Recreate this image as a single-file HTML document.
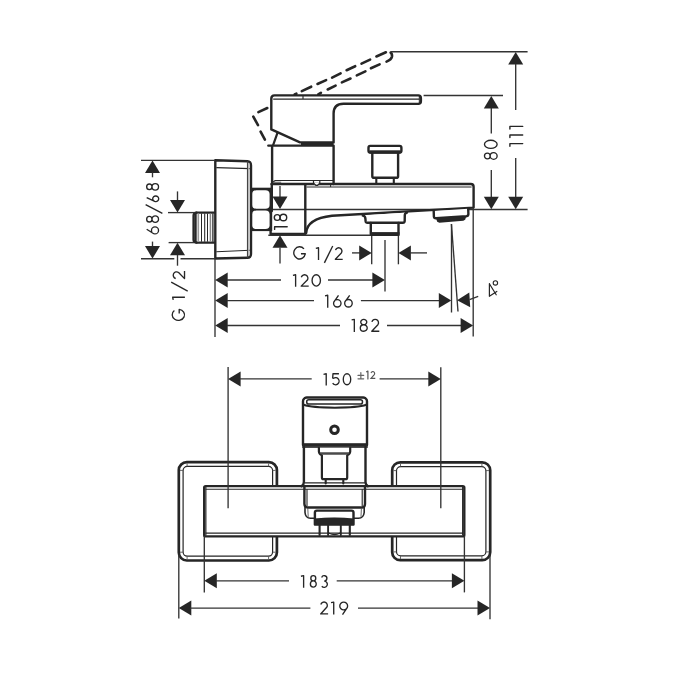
<!DOCTYPE html>
<html><head><meta charset="utf-8"><title>Bath mixer drawing</title>
<style>
html,body{margin:0;padding:0;background:#fff;width:700px;height:700px;overflow:hidden}
svg{display:block}
text{font-family:"Liberation Sans",sans-serif;fill:#262626;stroke:#fff;stroke-width:0.2px;paint-order:fill}
.tx{opacity:0.995}
</style></head>
<body>
<svg width="700" height="700" viewBox="0 0 700 700">
<rect width="700" height="700" fill="#fff"/>
<line x1="258.4" y1="112.1" x2="267.3" y2="108.0" stroke="#262626" stroke-width="2.6" stroke-linecap="round"/>
<line x1="294.6" y1="94.5" x2="296.4" y2="93.7" stroke="#262626" stroke-width="2.6" stroke-linecap="round"/>
<line x1="301.8" y1="91.1" x2="311.2" y2="86.7" stroke="#262626" stroke-width="2.6" stroke-linecap="round"/>
<line x1="317.5" y1="84.0" x2="326.1" y2="80.1" stroke="#262626" stroke-width="2.6" stroke-linecap="round"/>
<line x1="332.1" y1="77.7" x2="340.6" y2="73.3" stroke="#262626" stroke-width="2.6" stroke-linecap="round"/>
<line x1="346.6" y1="70.2" x2="355.2" y2="66.2" stroke="#262626" stroke-width="2.6" stroke-linecap="round"/>
<line x1="361.5" y1="63.6" x2="370.1" y2="59.6" stroke="#262626" stroke-width="2.6" stroke-linecap="round"/>
<line x1="376.4" y1="56.5" x2="385.9" y2="52.3" stroke="#262626" stroke-width="2.6" stroke-linecap="round"/>
<line x1="370.9" y1="68.3" x2="379.6" y2="64.4" stroke="#262626" stroke-width="2.6" stroke-linecap="round"/>
<line x1="356.8" y1="75.4" x2="365.4" y2="71.4" stroke="#262626" stroke-width="2.6" stroke-linecap="round"/>
<line x1="341.9" y1="82.4" x2="350.5" y2="78.5" stroke="#262626" stroke-width="2.6" stroke-linecap="round"/>
<line x1="327.7" y1="89.5" x2="335.6" y2="85.6" stroke="#262626" stroke-width="2.6" stroke-linecap="round"/>
<line x1="318.3" y1="94.4" x2="320.9" y2="92.8" stroke="#262626" stroke-width="2.6" stroke-linecap="round"/>
<line x1="253.3" y1="116.6" x2="258.0" y2="125.1" stroke="#262626" stroke-width="2.6" stroke-linecap="round"/>
<line x1="260.6" y1="131.6" x2="264.9" y2="139.7" stroke="#262626" stroke-width="2.6" stroke-linecap="round"/>
<path d="M390.6,52.6 Q392.3,53.6 392,56.5 Q391.5,59.5 386.5,61.6" stroke="#262626" stroke-width="2.6" fill="none" stroke-linejoin="round" stroke-linecap="round" />
<line x1="390.6" y1="51.7" x2="527.6" y2="51.7" stroke="#333333" stroke-width="1.35" />
<line x1="423.6" y1="95.5" x2="503" y2="95.5" stroke="#333333" stroke-width="1.35" />
<line x1="271" y1="209.5" x2="527.6" y2="209.5" stroke="#333333" stroke-width="1.35" />
<path d="M271.3,129.4 L271.3,98.8 Q271.3,95.4 274.5,95.4 L418.3,95.4 Q420.9,95.4 420.9,98.2 L420.9,101.3 Q420.9,103.9 418.3,103.9 L343.5,103.8 Q333.6,103.9 333.6,113.5 L333.6,142.4 L300,142.4 Z" stroke="#262626" stroke-width="2.4" fill="#fff" stroke-linejoin="round" stroke-linecap="round" />
<line x1="273.2" y1="99.1" x2="419.3" y2="99.1" stroke="#262626" stroke-width="1.1" />
<line x1="419.3" y1="96.4" x2="419.3" y2="102.8" stroke="#262626" stroke-width="1.0" />
<line x1="303" y1="95.6" x2="303" y2="99.1" stroke="#262626" stroke-width="1.1" />
<line x1="277.3" y1="133.3" x2="273.2" y2="144.8" stroke="#262626" stroke-width="2.2" stroke-linecap="round"/>
<path d="M268.3,145.6 L333.6,145.6 L333.6,184 M272.1,145.6 L272.1,184" stroke="#262626" stroke-width="2.4" fill="none" stroke-linejoin="round" stroke-linecap="round" />
<rect x="301" y="142.6" width="32.6" height="3" fill="#262626"/>
<path d="M272.6,182.2 L275.2,180.5 L333.6,180.5" stroke="#262626" stroke-width="1.1" fill="none" stroke-linejoin="round" stroke-linecap="round" />
<line x1="273.4" y1="182.2" x2="281.2" y2="182.2" stroke="#555" stroke-width="0.9" />
<path d="M372.3,152.2 L372.3,176.2 Q372.3,177.8 374,177.8 L396.4,177.8 Q398.1,177.8 398.1,176.2 L398.1,152.2" stroke="#262626" stroke-width="2.4" fill="#fff" stroke-linejoin="round" stroke-linecap="round" />
<path d="M370.2,145.9 L399.6,145.9 Q401.4,145.9 401.4,147.7 L401.4,150.8 Q401.4,152.6 399.6,152.6 L370.2,152.6 Q368.5,152.6 368.5,150.8 L368.5,147.7 Q368.5,145.9 370.2,145.9 Z" stroke="#262626" stroke-width="2.4" fill="#fff" stroke-linejoin="round" stroke-linecap="round" />
<rect x="369.4" y="150.3" width="31.2" height="3.3" fill="#262626"/>
<path d="M376.3,178 L376.3,183.5 M393.8,178 L393.8,183.5" stroke="#262626" stroke-width="2.1" fill="none" stroke-linejoin="round" stroke-linecap="round" />
<path d="M271.5,184.0 L470.9,184.0 Q473.6,184.0 473.6,186.7 L473.6,207.6 L332,215.7 C316,217.6 306.6,223 306.2,233" stroke="#262626" stroke-width="2.4" fill="none" stroke-linejoin="round" stroke-linecap="round" />
<line x1="306.5" y1="187.0" x2="471.6" y2="187.0" stroke="#262626" stroke-width="1.1" />
<rect x="314.3" y="182.7" width="4.8" height="2.2" fill="#fff"/>
<path d="M313.5,180.6 L313.5,183.2 L315.8,185.3 L317.6,185.3 L319.8,183.2 L319.8,180.6" stroke="#262626" stroke-width="1.2" fill="none" stroke-linejoin="round" stroke-linecap="round" stroke-linecap="butt"/>
<line x1="330.6" y1="184.8" x2="330.6" y2="187" stroke="#262626" stroke-width="1.0" />
<path d="M271.8,184.4 L271.8,211 M270.6,211 L270.6,234 L305.3,234 L305.3,184.4" stroke="#262626" stroke-width="2.4" fill="none" stroke-linejoin="round" stroke-linecap="round" />
<path d="M362.8,215.6 Q365.3,215.8 365.4,218.6 L365.6,221.2 Q365.8,222.8 367.5,222.8 L402.8,222.8 Q404.6,222.8 404.7,221 L404.8,215 Q405,212.8 407,212.6" stroke="#262626" stroke-width="2.4" fill="#fff" stroke-linejoin="round" stroke-linecap="round" />
<path d="M370.8,223 L370.8,234.2 L398.5,234.2 L398.5,223" stroke="#262626" stroke-width="2.4" fill="none" stroke-linejoin="round" stroke-linecap="round" />
<rect x="370" y="232.1" width="29.5" height="3.9" fill="#262626"/>
<path d="M433.7,211 L433.9,216.6 Q434.1,218.4 436.0,218.3 L466.3,216.2 Q468.4,216 468.4,214 L468.2,208.8" stroke="#262626" stroke-width="2.4" fill="#fff" stroke-linejoin="round" stroke-linecap="round" />
<polygon points="436.0,218.3 466.2,216.2 465.3,219.4 463.4,220.8 439.4,222.7 437.2,221.8" fill="#262626"/>
<rect x="250.2" y="187.7" width="22" height="43.4" fill="#262626"/>
<rect x="252.1" y="190.3" width="17.5" height="18.4" rx="4.2" ry="3.8" fill="#fff"/>
<rect x="252.1" y="210.6" width="17.5" height="18.5" rx="4.2" ry="3.8" fill="#fff"/>
<path d="M215.3,258.5 L215.3,160.3 L247.4,161.2 Q251.0,161.4 251.0,165.5 L251.0,253.5 Q251.0,257.7 247.4,257.8 Z" stroke="#262626" stroke-width="2.4" fill="#fff" stroke-linejoin="round" stroke-linecap="round" />
<line x1="216.3" y1="167.6" x2="250.3" y2="168.6" stroke="#262626" stroke-width="1.1" />
<line x1="216.3" y1="251.7" x2="250.3" y2="250.3" stroke="#262626" stroke-width="1.1" />
<line x1="248.8" y1="163" x2="248.8" y2="256" stroke="#bbb" stroke-width="1.3" />
<line x1="247.5" y1="161.3" x2="247.5" y2="257.7" stroke="#444" stroke-width="1.15" />
<path d="M196.4,212.6 L214.3,212.6 M196.4,242.6 L214.3,242.6" stroke="#262626" stroke-width="2.4" fill="none" stroke-linejoin="round" stroke-linecap="round" />
<path d="M196.5,212.6 Q193.6,212.8 193.6,215.5 L193.6,239.8 Q193.6,242.4 196.5,242.6" stroke="#262626" stroke-width="2.4" fill="none" stroke-linejoin="round" stroke-linecap="round" />
<line x1="195.6" y1="213" x2="195.6" y2="242" stroke="#262626" stroke-width="2.2" />
<line x1="198.3" y1="213.5" x2="198.3" y2="241.7" stroke="#999" stroke-width="1.6" />
<line x1="201.5" y1="213.5" x2="201.5" y2="241.7" stroke="#262626" stroke-width="1.05" />
<line x1="204.7" y1="213.5" x2="204.7" y2="241.7" stroke="#262626" stroke-width="1.05" />
<line x1="207.5" y1="213.5" x2="207.5" y2="241.7" stroke="#262626" stroke-width="1.05" />
<line x1="210.4" y1="213.5" x2="210.4" y2="241.7" stroke="#888" stroke-width="1.5" />
<line x1="212.9" y1="213.5" x2="212.9" y2="241.7" stroke="#262626" stroke-width="1.3" />
<polygon points="515.70,51.90 508.20,64.40 523.20,64.40" fill="#262626"/>
<line x1="515.7" y1="64" x2="515.7" y2="110" stroke="#333333" stroke-width="1.35" />
<path d="M522.7,126.4 L509.9,126.4 L509.9,129.0" stroke="#262626" stroke-width="1.4" fill="none" stroke-linejoin="round" stroke-linecap="round" stroke-linecap="butt" stroke-linejoin="miter"/>
<path d="M522.7,135.0 L509.9,135.0 L509.9,137.6" stroke="#262626" stroke-width="1.4" fill="none" stroke-linejoin="round" stroke-linecap="round" stroke-linecap="butt" stroke-linejoin="miter"/>
<path d="M522.7,143.6 L509.9,143.6 L509.9,146.2" stroke="#262626" stroke-width="1.4" fill="none" stroke-linejoin="round" stroke-linecap="round" stroke-linecap="butt" stroke-linejoin="miter"/>
<line x1="515.7" y1="157.9" x2="515.7" y2="197.5" stroke="#333333" stroke-width="1.35" />
<polygon points="515.70,209.30 508.20,196.80 523.20,196.80" fill="#262626"/>
<polygon points="491.30,95.90 483.80,108.40 498.80,108.40" fill="#262626"/>
<line x1="491.3" y1="108" x2="491.3" y2="133.6" stroke="#333333" stroke-width="1.35" />
<path d="M1.12,-10.48 A2.88,2.85 0 1 1 6.88,-10.48 A2.88,2.85 0 1 1 1.12,-10.48 Z M0.67,-4.15 A3.33,3.48 0 1 1 7.33,-4.15 A3.33,3.48 0 1 1 0.67,-4.15 Z M11.57,-7.00 A4.07,6.32 0 1 1 19.72,-7.00 A4.07,6.32 0 1 1 11.57,-7.00 Z" fill="none" stroke="#262626" stroke-width="1.35" stroke-linecap="butt" stroke-linejoin="round" transform="matrix(0,-1,1,0,497.8,160)"/>
<line x1="491.3" y1="170" x2="491.3" y2="197.5" stroke="#333333" stroke-width="1.35" />
<polygon points="491.30,209.30 483.80,196.80 498.80,196.80" fill="#262626"/>
<line x1="141" y1="160.3" x2="215" y2="160.3" stroke="#333333" stroke-width="1.35" />
<line x1="141" y1="258.7" x2="174.3" y2="258.7" stroke="#333333" stroke-width="1.35" />
<line x1="180.5" y1="258.7" x2="215" y2="258.7" stroke="#333333" stroke-width="1.35" />
<polygon points="152.50,160.40 145.00,172.90 160.00,172.90" fill="#262626"/>
<line x1="152.5" y1="172.5" x2="152.5" y2="177.3" stroke="#333333" stroke-width="1.35" />
<path d="M5.40,-12.52 L0.89,-5.41 M0.67,-4.20 A3.53,3.53 0 1 1 7.73,-4.20 A3.53,3.53 0 1 1 0.67,-4.20 Z M12.62,-9.86 A2.82,2.67 0 1 1 18.27,-9.86 A2.82,2.67 0 1 1 12.62,-9.86 Z M12.18,-3.93 A3.27,3.26 0 1 1 18.72,-3.93 A3.27,3.26 0 1 1 12.18,-3.93 Z M37.00,-12.52 L33.15,-4.47 M32.97,-3.50 A2.83,2.83 0 1 1 38.62,-3.50 A2.83,2.83 0 1 1 32.97,-3.50 Z M44.92,-9.86 A2.83,2.67 0 1 1 50.58,-9.86 A2.83,2.67 0 1 1 44.92,-9.86 Z M44.47,-3.93 A3.28,3.26 0 1 1 51.03,-3.93 A3.28,3.26 0 1 1 44.47,-3.93 Z" fill="none" stroke="#262626" stroke-width="1.35" stroke-linecap="butt" stroke-linejoin="round" transform="matrix(0,-1,1,0,159.2,234.6)"/>
<line x1="145.6" y1="204.6" x2="162.4" y2="213.3" stroke="#262626" stroke-width="1.35" />
<line x1="152.5" y1="241.6" x2="152.5" y2="246.5" stroke="#333333" stroke-width="1.35" />
<polygon points="152.50,258.60 145.00,246.10 160.00,246.10" fill="#262626"/>
<line x1="168" y1="212.6" x2="194" y2="212.6" stroke="#333333" stroke-width="1.35" />
<line x1="168.6" y1="242.6" x2="194" y2="242.6" stroke="#333333" stroke-width="1.35" />
<line x1="177.5" y1="191.4" x2="177.5" y2="201" stroke="#333333" stroke-width="1.35" />
<polygon points="177.50,212.60 170.00,200.10 185.00,200.10" fill="#262626"/>
<polygon points="177.50,242.70 170.00,255.20 185.00,255.20" fill="#262626"/>
<line x1="177.5" y1="255" x2="177.5" y2="265.7" stroke="#333333" stroke-width="1.35" />
<path d="M10.43,-10.82 A5.52,6.17 0 1 0 11.67,-5.99 L7.60,-5.99 M21.02,-11.97 L23.72,-12.52 L23.72,-0.30 M42.51,-9.48 A3.38,3.38 0 1 1 48.51,-6.61 L42.38,-0.68 L49.90,-0.68" fill="none" stroke="#262626" stroke-width="1.35" stroke-linecap="butt" stroke-linejoin="round" transform="matrix(0,-1,1,0,185.2,321)"/>
<line x1="171.2" y1="282.2" x2="187.7" y2="291.1" stroke="#262626" stroke-width="1.35" />
<line x1="280" y1="186" x2="280" y2="197.5" stroke="#333333" stroke-width="1.35" />
<polygon points="280.00,209.10 272.50,196.60 287.50,196.60" fill="#262626"/>
<circle cx="277.2" cy="217.5" r="2.9" fill="none" stroke="#262626" stroke-width="1.4"/>
<circle cx="283.4" cy="217.5" r="3.3" fill="none" stroke="#262626" stroke-width="1.4"/>
<path d="M287.2,226.8 L274.6,226.8 L274.6,229.4" stroke="#262626" stroke-width="1.4" fill="none" stroke-linejoin="round" stroke-linecap="round" stroke-linecap="butt" stroke-linejoin="miter"/>
<line x1="268.3" y1="235.2" x2="370.8" y2="235.2" stroke="#333333" stroke-width="1.35" />
<polygon points="280.00,235.30 272.50,247.80 287.50,247.80" fill="#262626"/>
<line x1="280" y1="247.5" x2="280" y2="263.6" stroke="#333333" stroke-width="1.35" />
<line x1="371.7" y1="236" x2="371.7" y2="264.3" stroke="#333333" stroke-width="1.35" />
<line x1="398.4" y1="236" x2="398.4" y2="264.3" stroke="#333333" stroke-width="1.35" />
<path d="M303.97,248.95 A5.77,6.08 0 1 0 305.27,253.70 L300.95,253.70 M315.82,248.33 L318.52,247.78 L318.52,260.00 M335.50,250.15 A3.27,3.27 0 1 1 341.33,252.93 L335.38,259.32 L342.70,259.32" fill="none" stroke="#262626" stroke-width="1.35" stroke-linecap="butt" stroke-linejoin="round"/>
<line x1="324.4" y1="262.9" x2="332.7" y2="246.0" stroke="#262626" stroke-width="1.35" />
<line x1="352" y1="252.9" x2="360" y2="252.9" stroke="#333333" stroke-width="1.35" />
<polygon points="371.70,252.90 359.20,245.40 359.20,260.40" fill="#262626"/>
<polygon points="398.40,252.90 410.90,245.40 410.90,260.40" fill="#262626"/>
<line x1="410" y1="252.9" x2="427" y2="252.9" stroke="#333333" stroke-width="1.35" />
<line x1="385" y1="240" x2="385" y2="291.6" stroke="#333333" stroke-width="1.35" />
<line x1="215" y1="258.5" x2="215" y2="337" stroke="#333333" stroke-width="1.35" />
<line x1="451.5" y1="224" x2="451.5" y2="312.5" stroke="#333333" stroke-width="1.35" />
<line x1="451.4" y1="224" x2="458.0" y2="311.5" stroke="#333333" stroke-width="1.35" />
<line x1="473.2" y1="208" x2="473.2" y2="336.5" stroke="#333333" stroke-width="1.35" />
<polygon points="215.20,280.00 227.70,272.50 227.70,287.50" fill="#262626"/>
<line x1="227" y1="280" x2="281" y2="280" stroke="#333333" stroke-width="1.35" />
<path d="M292.93,275.33 L295.62,274.78 L295.62,286.80 M301.31,277.22 A3.37,3.37 0 1 1 307.31,280.09 L301.18,286.12 L308.70,286.12 M312.07,280.45 A4.18,5.67 0 1 1 320.43,280.45 A4.18,5.67 0 1 1 312.07,280.45 Z" fill="none" stroke="#262626" stroke-width="1.35" stroke-linecap="butt" stroke-linejoin="round"/>
<line x1="328" y1="280" x2="374" y2="280" stroke="#333333" stroke-width="1.35" />
<polygon points="384.90,280.00 372.40,272.50 372.40,287.50" fill="#262626"/>
<polygon points="215.20,300.60 227.70,293.10 227.70,308.10" fill="#262626"/>
<line x1="227" y1="300.6" x2="314" y2="300.6" stroke="#333333" stroke-width="1.35" />
<path d="M325.02,295.83 L327.72,295.28 L327.72,307.70 M338.50,295.28 L333.80,302.03 M333.57,303.30 A3.72,3.72 0 1 1 341.02,303.30 A3.72,3.72 0 1 1 333.57,303.30 Z M349.65,295.28 L344.90,301.96 M344.68,303.25 A3.77,3.77 0 1 1 352.22,303.25 A3.77,3.77 0 1 1 344.68,303.25 Z" fill="none" stroke="#262626" stroke-width="1.35" stroke-linecap="butt" stroke-linejoin="round"/>
<line x1="360.9" y1="300.6" x2="440" y2="300.6" stroke="#333333" stroke-width="1.35" />
<polygon points="451.30,300.60 438.80,293.10 438.80,308.10" fill="#262626"/>
<polygon points="457.1,300.2 469.3,292.6 470.2,307.3" fill="#262626"/>
<line x1="469.5" y1="299.6" x2="478.2" y2="296.3" stroke="#333333" stroke-width="1.35" />
<path d="M489.4,283.7 L489.4,296.3 L496.8,291.4 M489.4,283.7 L496.2,294.8" stroke="#262626" stroke-width="1.2" fill="none" stroke-linejoin="round" stroke-linecap="round" stroke-linecap="butt"/>
<circle cx="495.4" cy="282.9" r="2.2" fill="none" stroke="#262626" stroke-width="1.1"/>
<polygon points="215.20,325.50 227.70,318.00 227.70,333.00" fill="#262626"/>
<line x1="227" y1="325.5" x2="340" y2="325.5" stroke="#333333" stroke-width="1.35" />
<path d="M351.62,319.93 L354.32,319.38 L354.32,331.90 M360.73,322.04 A3.02,2.67 0 1 1 366.77,322.04 A3.02,2.67 0 1 1 360.73,322.04 Z M360.28,327.97 A3.47,3.26 0 1 1 367.22,327.97 A3.47,3.26 0 1 1 360.28,327.97 Z M371.91,321.82 A3.37,3.37 0 1 1 377.91,324.69 L371.78,331.22 L379.30,331.22" fill="none" stroke="#262626" stroke-width="1.35" stroke-linecap="butt" stroke-linejoin="round"/>
<line x1="387" y1="325.5" x2="461" y2="325.5" stroke="#333333" stroke-width="1.35" />
<polygon points="473.10,325.50 460.60,318.00 460.60,333.00" fill="#262626"/>
<rect x="178.8" y="462.1" width="98.1" height="98.4" rx="8" fill="#fff" stroke="#262626" stroke-width="2.7"/>
<rect x="183.10000000000002" y="466.40000000000003" width="89.5" height="89.8" rx="4.2" fill="none" stroke="#262626" stroke-width="1.2"/>
<line x1="187.10000000000002" y1="463.3" x2="187.10000000000002" y2="466.40000000000003" stroke="#555" stroke-width="0.9" />
<line x1="180.0" y1="470.40000000000003" x2="183.10000000000002" y2="470.40000000000003" stroke="#555" stroke-width="0.9" />
<line x1="187.10000000000002" y1="559.3" x2="187.10000000000002" y2="556.2" stroke="#555" stroke-width="0.9" />
<line x1="180.0" y1="552.2" x2="183.10000000000002" y2="552.2" stroke="#555" stroke-width="0.9" />
<line x1="268.59999999999997" y1="463.3" x2="268.59999999999997" y2="466.40000000000003" stroke="#555" stroke-width="0.9" />
<line x1="275.7" y1="470.40000000000003" x2="272.59999999999997" y2="470.40000000000003" stroke="#555" stroke-width="0.9" />
<line x1="268.59999999999997" y1="559.3" x2="268.59999999999997" y2="556.2" stroke="#555" stroke-width="0.9" />
<line x1="275.7" y1="552.2" x2="272.59999999999997" y2="552.2" stroke="#555" stroke-width="0.9" />
<rect x="392.2" y="462.3" width="98.0" height="97.9" rx="8" fill="#fff" stroke="#262626" stroke-width="2.7"/>
<rect x="396.5" y="466.6" width="89.4" height="89.3" rx="4.2" fill="none" stroke="#262626" stroke-width="1.2"/>
<line x1="400.5" y1="463.5" x2="400.5" y2="466.6" stroke="#555" stroke-width="0.9" />
<line x1="393.4" y1="470.6" x2="396.5" y2="470.6" stroke="#555" stroke-width="0.9" />
<line x1="400.5" y1="559.0" x2="400.5" y2="555.9000000000001" stroke="#555" stroke-width="0.9" />
<line x1="393.4" y1="551.9000000000001" x2="396.5" y2="551.9000000000001" stroke="#555" stroke-width="0.9" />
<line x1="481.9" y1="463.5" x2="481.9" y2="466.6" stroke="#555" stroke-width="0.9" />
<line x1="489.0" y1="470.6" x2="485.9" y2="470.6" stroke="#555" stroke-width="0.9" />
<line x1="481.9" y1="559.0" x2="481.9" y2="555.9000000000001" stroke="#555" stroke-width="0.9" />
<line x1="489.0" y1="551.9000000000001" x2="485.9" y2="551.9000000000001" stroke="#555" stroke-width="0.9" />
<rect x="204.2" y="486.1" width="260.1" height="50.3" rx="1.5" fill="#fff" stroke="#262626" stroke-width="2.4"/>
<line x1="205.5" y1="489.2" x2="463.0" y2="489.2" stroke="#262626" stroke-width="1.1" />
<line x1="205.5" y1="533.1" x2="463.0" y2="533.1" stroke="#262626" stroke-width="1.1" />
<line x1="205.9" y1="487" x2="205.9" y2="535.5" stroke="#262626" stroke-width="1.1" />
<line x1="462.6" y1="487" x2="462.6" y2="535.5" stroke="#262626" stroke-width="1.1" />
<path d="M303,445 L303,401.2 Q303,399.6 304.2,398.6 L305,397.9 Q305.6,397.5 306.8,397.5 L363.2,397.5 Q364.4,397.5 365,397.9 L365.8,398.6 Q367,399.6 367,401.2 L367,445" stroke="#262626" stroke-width="2.4" fill="#fff" stroke-linejoin="round" stroke-linecap="round" />
<rect x="306.7" y="399.7" width="55.8" height="4.3" rx="2.1" fill="none" stroke="#262626" stroke-width="1.5"/>
<path d="M303.8,404.8 C314,408.6 355.6,408.6 366.2,404.8" stroke="#262626" stroke-width="2.0" fill="none" stroke-linejoin="round" stroke-linecap="round" />
<circle cx="334.5" cy="429.7" r="3.8" fill="none" stroke="#262626" stroke-width="3.0"/>
<rect x="302.2" y="443.2" width="65.6" height="2.8" fill="#262626"/>
<rect x="302.2" y="445.8" width="65.6" height="2.1" fill="#3a3a3a"/>
<path d="M303.9,447 L303.9,482 Q304,484.5 301.5,486.2 M365.5,447 L365.5,482 Q365.4,484.5 367.9,486.2" stroke="#262626" stroke-width="2.4" fill="none" stroke-linejoin="round" stroke-linecap="round" />
<line x1="304.5" y1="482.9" x2="365" y2="482.9" stroke="#262626" stroke-width="1.1" />
<path d="M318.9,447.8 L318.9,451.6 Q319.2,454.3 321.9,455.3 L321.9,477.4 Q321.9,479.2 323.7,479.2 L345.4,479.2 Q347.2,479.2 347.2,477.4 L347.2,455.3 Q349.9,454.3 350.2,451.6 L350.2,447.8" stroke="#262626" stroke-width="2.2" fill="#fff" stroke-linejoin="round" stroke-linecap="round" />
<polygon points="319.8,452.3 349.3,452.3 347.3,454.7 321.8,454.7" fill="#4a4a4a"/>
<path d="M325.7,479.5 L325.7,483.5 M343.3,479.5 L343.3,483.5" stroke="#262626" stroke-width="2.1" fill="none" stroke-linejoin="round" stroke-linecap="round" />
<path d="M304.4,486.3 L304.4,504 Q304.6,507.5 307.5,507.5 L362,507.5 Q364.9,507.5 365,504 L365,486.3" stroke="#262626" stroke-width="2.4" fill="none" stroke-linejoin="round" stroke-linecap="round" />
<line x1="307" y1="489.3" x2="307" y2="506" stroke="#262626" stroke-width="1.1" />
<line x1="362.2" y1="489.3" x2="362.2" y2="506" stroke="#262626" stroke-width="1.1" />
<path d="M305,507.5 L305,512.5 Q305.5,518.2 310.5,518.2 L358.5,518.2 Q363.5,518.2 364.2,512.5 L364.2,507.5" stroke="#262626" stroke-width="1.6" fill="none" stroke-linejoin="round" stroke-linecap="round" />
<path d="M307.8,508.5 L308.2,516.5 M361.4,508.5 L361,516.5" stroke="#555" stroke-width="0.9" fill="none" stroke-linejoin="round" stroke-linecap="round" />
<path d="M314.9,524.6 L314.9,512.6 Q314.9,510.6 316.9,510.6 L351.5,510.6 Q353.5,510.6 353.5,512.6 L353.5,524.6 Z" stroke="#262626" stroke-width="2.4" fill="#fff" stroke-linejoin="round" stroke-linecap="round" />
<path d="M314.5,518.6 Q334.2,516.4 353.9,518.6 L353.9,525 L314.5,525 Z" stroke="#262626" stroke-width="0.1" fill="#262626" stroke-linejoin="round" stroke-linecap="round" />
<path d="M319.6,524.5 L319.6,535 M349.8,524.5 L349.8,535" stroke="#262626" stroke-width="2.1" fill="none" stroke-linejoin="round" stroke-linecap="round" />
<path d="M328.1,524.5 L328.1,535 M340.8,524.5 L340.8,535" stroke="#262626" stroke-width="1.9" fill="none" stroke-linejoin="round" stroke-linecap="round" />
<path d="M329.2,533.2 Q334.5,536 339.8,533.2" stroke="#262626" stroke-width="1.2" fill="none" stroke-linejoin="round" stroke-linecap="round" />
<line x1="228.1" y1="367" x2="228.1" y2="508.3" stroke="#333333" stroke-width="1.35" />
<line x1="440.8" y1="367.2" x2="440.8" y2="508.3" stroke="#333333" stroke-width="1.35" />
<polygon points="228.10,378.90 240.60,371.40 240.60,386.40" fill="#262626"/>
<line x1="240" y1="378.9" x2="311.7" y2="378.9" stroke="#333333" stroke-width="1.35" />
<path d="M323.52,374.33 L326.22,373.78 L326.22,385.40 M338.93,373.78 L332.98,373.78 L332.68,377.94 L333.53,378.31 A3.52,3.52 0 1 1 332.66,383.22 M343.28,379.25 A3.72,5.47 0 1 1 350.72,379.25 A3.72,5.47 0 1 1 343.28,379.25 Z" fill="none" stroke="#262626" stroke-width="1.35" stroke-linecap="butt" stroke-linejoin="round"/>
<path d="M358,375.4 L363.7,375.4 M360.85,372.6 L360.85,378.1 M358,378.8 L363.7,378.8" stroke="#666" stroke-width="1.2" fill="none" stroke-linejoin="round" stroke-linecap="round" stroke-linecap="butt"/>
<path d="M366.6,371.8 L367.9,371.1 L367.9,378.9" stroke="#555" stroke-width="1.2" fill="none" stroke-linejoin="round" stroke-linecap="round" stroke-linecap="butt" stroke-linejoin="miter"/>
<path d="M371.05,373.00 A1.83,1.83 0 1 1 374.29,374.55 L370.98,378.32 L375.30,378.32" fill="none" stroke="#555" stroke-width="1.15"/>
<line x1="379.6" y1="378.9" x2="429" y2="378.9" stroke="#333333" stroke-width="1.35" />
<polygon points="440.80,378.90 428.30,371.40 428.30,386.40" fill="#262626"/>
<line x1="204.3" y1="536" x2="204.3" y2="592.6" stroke="#333333" stroke-width="1.35" />
<line x1="464.4" y1="536" x2="464.4" y2="592.4" stroke="#333333" stroke-width="1.35" />
<polygon points="204.30,580.80 216.80,573.30 216.80,588.30" fill="#262626"/>
<line x1="216" y1="580.8" x2="289" y2="580.8" stroke="#333333" stroke-width="1.35" />
<path d="M300.93,576.22 L303.62,575.67 L303.62,587.80 M310.82,578.25 A2.47,2.58 0 1 1 315.77,578.25 A2.47,2.58 0 1 1 310.82,578.25 Z M310.38,583.98 A2.92,3.15 0 1 1 316.22,583.98 A2.92,3.15 0 1 1 310.38,583.98 Z M321.67,577.45 A2.69,2.69 0 1 1 324.20,581.06 M324.20,581.06 A3.15,3.15 0 1 1 321.79,586.23" fill="none" stroke="#262626" stroke-width="1.35" stroke-linecap="butt" stroke-linejoin="round"/>
<line x1="336.7" y1="580.8" x2="453" y2="580.8" stroke="#333333" stroke-width="1.35" />
<polygon points="464.40,580.80 451.90,573.30 451.90,588.30" fill="#262626"/>
<line x1="178.8" y1="555" x2="178.8" y2="618.6" stroke="#333333" stroke-width="1.35" />
<line x1="490.0" y1="555" x2="490.0" y2="619.3" stroke="#333333" stroke-width="1.35" />
<polygon points="178.80,608.10 191.30,600.60 191.30,615.60" fill="#262626"/>
<line x1="190" y1="608.1" x2="310.4" y2="608.1" stroke="#333333" stroke-width="1.35" />
<path d="M320.80,604.48 A3.33,3.33 0 1 1 326.72,607.31 L320.68,613.93 L328.10,613.93 M331.02,602.62 L333.72,602.07 L333.72,614.60 M339.78,606.00 A3.92,3.92 0 1 1 347.62,606.00 A3.92,3.92 0 1 1 339.78,606.00 Z M347.39,607.34 L342.50,614.60" fill="none" stroke="#262626" stroke-width="1.35" stroke-linecap="butt" stroke-linejoin="round"/>
<line x1="358" y1="608.1" x2="478" y2="608.1" stroke="#333333" stroke-width="1.35" />
<polygon points="490.00,608.10 477.50,600.60 477.50,615.60" fill="#262626"/>
</svg>
</body></html>
